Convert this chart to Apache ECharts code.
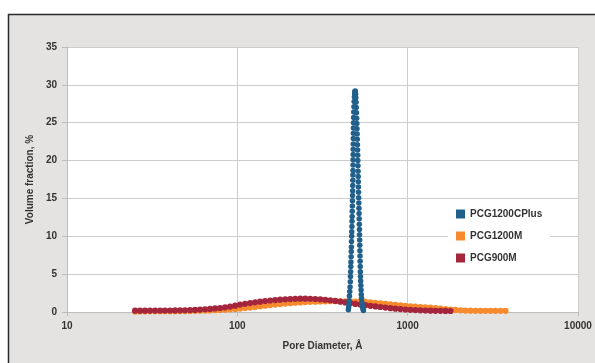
<!DOCTYPE html>
<html>
<head>
<meta charset="utf-8">
<script src="https://cdn.jsdelivr.net/npm/echarts@6/dist/echarts.min.js"></script>
<style>
html,body{margin:0;padding:0;background:#fff;}
#chart{width:595px;height:363px;}
</style>
</head>
<body>
<div id="chart"></div>
<script>
// ---- Data ----
const seriesNames = ["PCG1200CPlus", "PCG1200M", "PCG900M"];
const xTicks = [10, 100, 1000, 10000];
const yTicks = [0, 5, 10, 15, 20, 25, 30, 35];

// PCG1200CPlus (narrow peak)
const cplusDiam = [
  448.6,450,451.5,453,455,457,459,460.5,461.5,462.5,463.5,464.5,465.5,466.5,467.3,468,469,469.8,470.6,471.3,
  472,472.8,473.5,474.2,474.8,475.5,476,476.6,477,477.5,477.9,478.2,478.6,479,479.4,479.8,480.2,480.6,481,481.6,
  482.5,483.8,485.2,486.8,488.5,490,491.5,
  493,494.5,496,497.5,499,500.5,502,503,504,505,506,507,508,509,509.8,510.6,511.4,512.2,513,513.8,
  514.6,515.5,516.5,517.5,518.4,519.3,520.2,521,521.8,522.6,523.4,524.2,525,525.8,526.6,527.4,528.3,529.5,
  531,532.5,534,536,538.5,541.5,544.5,547.5,550
];
const cplusVal = [
  0.3,0.6,1.0,1.5,2.1,2.7,3.3,4.0,4.7,5.3,6.0,6.6,7.3,8.0,8.6,9.3,10.0,10.6,11.3,12.0,
  12.6,13.3,14.0,14.7,15.4,16.0,16.7,17.4,18.1,18.7,19.4,20.1,20.8,21.5,22.2,22.9,23.6,24.3,25.0,25.7,
  26.4,27.1,27.8,28.4,28.8,29.1,29.2,
  29.1,28.8,28.3,27.7,27.0,26.3,25.6,24.9,24.2,23.5,22.8,22.1,21.4,20.7,20.0,19.3,18.6,17.9,17.2,16.5,
  15.8,15.1,14.4,13.7,13.0,12.3,11.6,10.9,10.2,9.5,8.8,8.1,7.4,6.7,6.0,5.3,4.7,4.1,
  3.5,2.9,2.3,1.8,1.3,0.9,0.6,0.35,0.2
];

// Shared diameter grid of the PCG1200M / PCG900M measurements (Å)
const mDiam = [
  25.1,26.8,28.7,30.7,32.9,35.2,37.6,40.3,43.1,46.1,49.3,52.8,56.5,60.4,64.7,69.2,74.0,79.2,84.8,90.7,
  97.1,103.9,111.1,118.9,127.3,136.2,145.7,155.9,166.9,178.5,191.1,204.4,218.8,234.1,250.5,268.0,286.8,306.9,328.4,351.4,
  376.0,402.3,430.5,460.6,492.9,527.4,564.4,603.9,646.2,691.4,739.8,791.6,847.1,906.4,969.9,1037.8,1110.5,1188.2,1271.4,1360.5,
  1455.8,1557.7,1666.8,1783.5,1908.4,2042.0,2185.0,2338.0,2501.7,2676.9,2864.3,3064.9,3279.5,3509.1,3754.8
];
const pcg1200mVal = [
  0.08,0.08,0.09,0.09,0.1,0.1,0.1,0.11,0.11,0.12,0.12,0.13,0.15,0.17,0.19,0.21,0.24,0.27,0.31,0.35,
  0.4,0.45,0.52,0.59,0.67,0.75,0.83,0.91,0.98,1.05,1.11,1.17,1.22,1.27,1.31,1.34,1.37,1.39,1.41,1.42,
  1.42,1.42,1.41,1.4,1.39,1.37,1.34,1.29,1.22,1.15,1.08,1.01,0.94,0.88,0.81,0.75,0.7,0.66,0.62,0.57,
  0.51,0.44,0.38,0.32,0.27,0.22,0.19,0.17,0.16,0.16,0.16,0.16,0.16,0.16,0.16
];
const pcg900mVal = [
  0.17,0.18,0.18,0.19,0.19,0.2,0.2,0.2,0.21,0.22,0.23,0.25,0.28,0.32,0.36,0.41,0.47,0.53,0.62,0.72,
  0.83,0.98,1.08,1.18,1.28,1.37,1.45,1.52,1.58,1.63,1.67,1.71,1.74,1.76,1.76,1.75,1.72,1.68,1.62,1.55,
  1.46,1.36,1.26,1.16,1.07,0.98,0.9,0.82,0.74,0.66,0.58,0.5,0.44,0.38,0.33,0.29,0.25,0.22,0.2,0.18,
  0.16,0.15,0.14,0.13
];

const colors = {"PCG1200CPlus": "#22608c", "PCG1200M": "#f68a2c", "PCG900M": "#a4253c"};

function zip(xs, ys) { return ys.map((v, i) => [xs[i], v]); }

const chart = echarts.init(document.getElementById('chart'), null, {renderer: 'canvas'});
const font = '"Liberation Sans", Arial, sans-serif';

chart.setOption({
  animation: false,
  backgroundColor: '#ffffff',
  graphic: {
    elements: [{
      type: 'rect', z: -100, silent: true,
      shape: {x: 8.5, y: 14.5, width: 600, height: 360},
      style: {fill: '#e4e3e1', stroke: '#2a2a2a', lineWidth: 1.5}
    }]
  },
  grid: {left: 67, right: 17, top: 47, bottom: 51, show: true, backgroundColor: '#ffffff', borderWidth: 0},
  legend: {
    orient: 'vertical', left: 448, top: 203,
    data: seriesNames, icon: 'rect', itemWidth: 9, itemHeight: 9, itemGap: 12,
    backgroundColor: '#ffffff', padding: [6, 8, 6, 8],
    textStyle: {fontFamily: font, fontSize: 10, fontWeight: 'bold', color: '#333'}
  },
  xAxis: {
    type: 'log', logBase: 10, min: xTicks[0], max: xTicks[xTicks.length - 1],
    name: 'Pore Diameter, Å', nameLocation: 'middle', nameGap: 29,
    nameTextStyle: {fontFamily: font, fontSize: 10, fontWeight: 'bold', color: '#333'},
    axisLine: {show: true, lineStyle: {color: '#bdbdbd', width: 1}},
    axisTick: {show: true, length: 4, lineStyle: {color: '#bdbdbd'}},
    minorTick: {show: false},
    splitLine: {show: true, lineStyle: {color: '#cdcdcd', width: 1}},
    axisLabel: {fontFamily: font, fontSize: 10, fontWeight: 'bold', color: '#333', margin: 9,
      formatter: v => String(Math.round(v))}
  },
  yAxis: {
    type: 'value', min: yTicks[0], max: yTicks[yTicks.length - 1], interval: 5,
    name: 'Volume fraction, %', nameLocation: 'middle', nameGap: 27,
    nameTextStyle: {fontFamily: font, fontSize: 10, fontWeight: 'bold', color: '#333'},
    axisLine: {show: true, lineStyle: {color: '#bdbdbd', width: 1}},
    axisTick: {show: true, length: 5, lineStyle: {color: '#bdbdbd'}},
    splitLine: {show: true, lineStyle: {color: '#cdcdcd', width: 1}},
    axisLabel: {fontFamily: font, fontSize: 10, fontWeight: 'bold', color: '#333', margin: 10}
  },
  series: [
    {name: 'PCG1200CPlus', type: 'scatter', z: 5, symbol: 'circle', symbolSize: 5.5,
     itemStyle: {color: colors['PCG1200CPlus'], opacity: 1}, data: zip(cplusDiam, cplusVal)},
    {name: 'PCG1200M', type: 'scatter', z: 3, symbol: 'circle', symbolSize: 6.2,
     itemStyle: {color: colors['PCG1200M'], opacity: 1}, data: zip(mDiam, pcg1200mVal)},
    {name: 'PCG900M', type: 'scatter', z: 4, symbol: 'circle', symbolSize: 6.2,
     itemStyle: {color: colors['PCG900M'], opacity: 1}, data: zip(mDiam, pcg900mVal)}
  ]
});
</script>
</body>
</html>
